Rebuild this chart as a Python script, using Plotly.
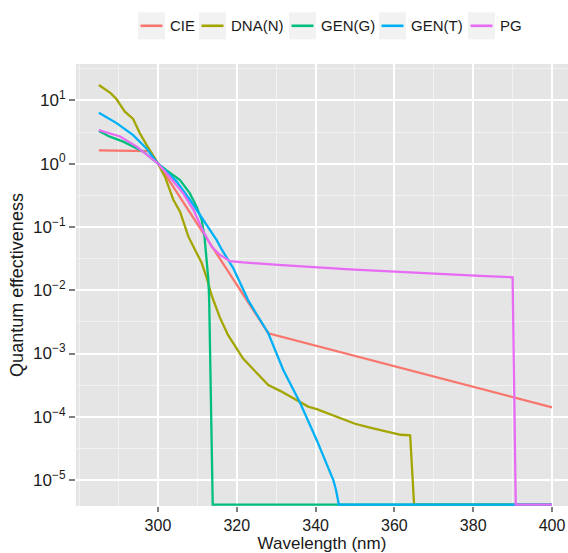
import plotly.graph_objects as go

FLOOR = 4.1e-6

series_names = ["CIE", "DNA(N)", "GEN(G)", "GEN(T)", "PG"]
series_colors = ["#F8766D", "#A3A500", "#00BF7D", "#00B0F6", "#E76BF3"]

cie_wl = [285, 298, 328, 400]
cie_val = [1.62, 1.58, 2.09e-3, 1.41e-4]

dna_wl = [285, 288, 289.5, 291.6, 293.7, 295.4, 297.1, 300, 301.8, 303.0, 303.9,
          305.6, 306.4, 307.7, 309.4, 311.1, 312.4, 313.6, 315.7, 317.8, 321.6,
          326.7, 328.0, 331.0, 333.5, 336.0, 338.1, 340.3, 342.0, 344.5, 347.0,
          350.0, 353.8, 357.2, 361.6, 364.0, 365.0, 400]
dna_val = [17.5, 13.0, 10.4, 6.64, 5.09, 3.02, 1.98, 1.0, 0.617, 0.380, 0.269,
           0.174, 0.120, 0.0708, 0.0437, 0.0269, 0.0155, 0.00832, 0.00372, 0.00195, 8.32e-4,
           3.80e-4, 3.16e-4, 2.57e-4, 2.09e-4, 1.74e-4, 1.45e-4, 1.32e-4, 1.20e-4, 1.07e-4, 9.12e-5,
           7.76e-5, 6.76e-5, 6.03e-5, 5.2e-5, 5.1e-5, FLOOR, FLOOR]

geng_wl = [285, 287.8, 291.2, 296.3, 300, 302.2, 305.6, 308.1, 309.8, 311.1,
           311.8, 312.2, 312.8, 313.0, 313.9, 400]
geng_val = [3.29, 2.67, 2.23, 1.55, 1.0, 0.78, 0.55, 0.339, 0.209, 0.129,
            0.0708, 0.0339, 0.0145, 0.0069, FLOOR, FLOOR]

gent_wl = [285, 289.5, 293.7, 297.1, 300, 304.7, 308.1, 311.5, 314.9, 316.2,
           319.1, 322.9, 328.0, 331.8, 336.0, 340.3, 344.5, 345.2, 345.9, 400]
gent_val = [6.40, 4.37, 2.82, 1.74, 1.0, 0.525, 0.269, 0.129, 0.0617, 0.0437,
            0.0224, 0.00692, 0.00209, 5.5e-4, 1.70e-4, 4.27e-5, 1.0e-5, 6.9e-6, FLOOR, FLOOR]

pg_wl = [285, 290.4, 294.6, 300, 303.0, 306.4, 309.0, 311.5, 313.6, 315.7,
         318.3, 321.6, 330.5, 348.7, 381.7, 390.0, 390.8, 400]
pg_val = [3.39, 2.69, 1.86, 1.0, 0.617, 0.339, 0.186, 0.0851, 0.049, 0.0363,
          0.0288, 0.0275, 0.0251, 0.0214, 0.0168, 0.0160, FLOOR, FLOOR]

x_ticks = [300, 320, 340, 360, 380, 400]
x_minor = [280, 290, 310, 330, 350, 370, 390]
y_exps = [-5, -4, -3, -2, -1, 0, 1]

all_wl = [cie_wl, dna_wl, geng_wl, gent_wl, pg_wl]
all_val = [cie_val, dna_val, geng_val, gent_val, pg_val]

# plot area geometry (pixels)
W, H = 568, 553
ML, MR, MT, MB = 76, 0, 64, 47
PW, PH = W - ML - MR, H - MT - MB


def px_x(px):
    return (px - ML) / PW


def px_y(py):
    return (H - MB - py) / PH


fig = go.Figure()
for name, col, wl, val in zip(series_names, series_colors, all_wl, all_val):
    fig.add_trace(go.Scatter(x=wl, y=val, mode="lines", name=name, showlegend=False,
                             line=dict(color=col, width=2.3)))

# legend (ggplot style keys with grey boxes), laid out along the top
legend_left_px = [138, 199, 289, 379, 468]
KEY = 27
KEY_CY = 25.8
shapes = []
annotations = []
for name, col, bx in zip(series_names, series_colors, legend_left_px):
    shapes.append(dict(type="rect", xref="paper", yref="paper",
                       x0=px_x(bx), x1=px_x(bx + KEY),
                       y0=px_y(KEY_CY + KEY / 2), y1=px_y(KEY_CY - KEY / 2),
                       fillcolor="#F2F2F2", line=dict(width=0), layer="above"))
    shapes.append(dict(type="line", xref="paper", yref="paper",
                       x0=px_x(bx + 2.5), x1=px_x(bx + KEY - 2.5),
                       y0=px_y(KEY_CY), y1=px_y(KEY_CY),
                       line=dict(color=col, width=2.6), layer="above"))
    annotations.append(dict(text=name, xref="paper", yref="paper",
                            x=px_x(bx + 30), y=px_y(KEY_CY), xanchor="left", yanchor="middle",
                            showarrow=False, font=dict(size=15, color="#1A1A1A")))


def sup(k):
    s = str(k).replace("-", "\u2212")
    return "10<sup>" + s + "</sup>"


FONT = "Liberation Sans, Arial, Helvetica, sans-serif"
fig.update_layout(
    width=W, height=H,
    margin=dict(l=ML, r=MR, t=MT, b=MB),
    plot_bgcolor="#E5E5E5", paper_bgcolor="white",
    font=dict(family=FONT, color="#1A1A1A", size=15),
    showlegend=False,
    shapes=shapes, annotations=annotations,
    xaxis=dict(range=[279.2, 404.06], tickmode="array", tickvals=x_ticks,
               ticktext=[str(v) for v in x_ticks],
               ticks="outside", ticklen=5, tickwidth=1.5, tickcolor="#7F7F7F",
               showgrid=True, gridcolor="white", gridwidth=1.6, zeroline=False,
               showline=False, tickfont=dict(size=16, color="#1A1A1A"),
               minor=dict(tickmode="array", tickvals=x_minor, showgrid=True,
                          gridcolor="#F2F2F2", gridwidth=0.8, ticks=""),
               title=dict(text="Wavelength (nm)", font=dict(size=17), standoff=3)),
    yaxis=dict(type="log", range=[-5.41, 1.575], tickmode="array",
               tickvals=[10.0 ** k for k in y_exps], ticktext=[sup(k) for k in y_exps],
               ticks="outside", ticklen=6, tickwidth=1.5, tickcolor="#7F7F7F",
               showgrid=True, gridcolor="white", gridwidth=1.6, zeroline=False,
               showline=False, tickfont=dict(size=17, color="#1A1A1A"),
               minor=dict(tickmode="array", tickvals=[10.0 ** (k + 0.5) for k in y_exps],
                          showgrid=True, gridcolor="#F2F2F2", gridwidth=0.8, ticks=""),
               title=dict(text="Quantum effectiveness", font=dict(size=18), standoff=4)),
)

fig.write_html("out.html")
